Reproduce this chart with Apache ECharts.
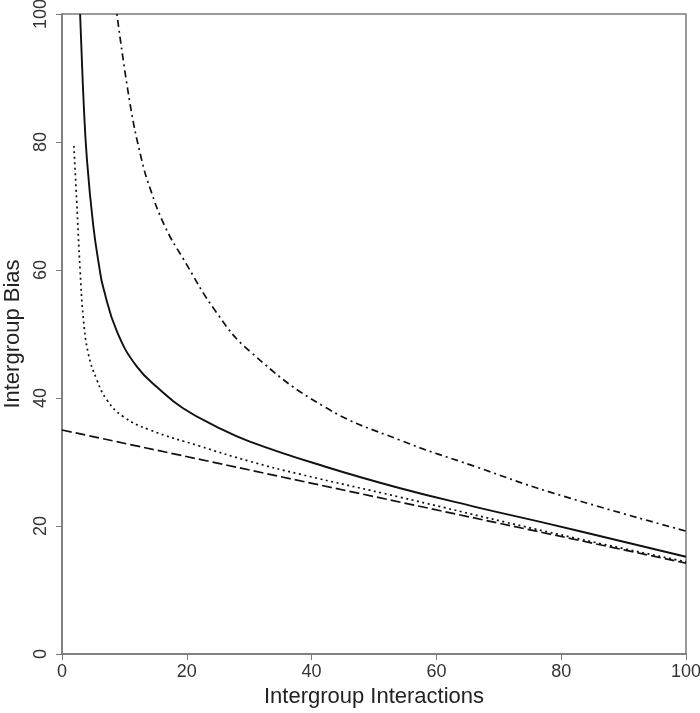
<!DOCTYPE html>
<html>
<head>
<meta charset="utf-8">
<script src="https://cdn.jsdelivr.net/npm/echarts@6/dist/echarts.min.js"></script>
<style>
  html, body { margin: 0; padding: 0; background: #fff; }
  #chart { width: 700px; height: 713px; }
</style>
</head>
<body>
<div id="chart"></div>
<script>
// values
const solidX = [2.9, 3.45, 4.0, 5.0, 6.0, 6.6, 8.8, 12.0, 15.7, 19.4, 24.8, 30.1, 42.1, 54.2, 66.2, 78.2, 100]
const solidY = [100, 86.6, 77.2, 67.0, 60.3, 57.3, 50.4, 44.9, 41.3, 38.4, 35.5, 33.2, 29.3, 25.9, 23.0, 20.3, 15.2]

const dottedX = [1.9, 2.35, 2.9, 3.4, 4.2, 5.6, 7.2, 9.8, 14.1, 22, 30.1, 38.1, 54.2, 78.2, 100]
const dottedY = [79.4, 70.9, 60, 52.7, 47.0, 42.8, 39.7, 37.1, 35.0, 32.5, 30.1, 28.1, 24.5, 19.0, 14.4]

const dashedX = [0, 100]
const dashedY = [35, 14.2]

const dashDotX = [8.8, 10.9, 12.7, 14.1, 16.5, 19.4, 24.8, 30.1, 42.1, 54.2, 66.2, 78.2, 100]
const dashDotY = [100, 86.0, 77.5, 72.8, 66.8, 61.8, 53.3, 47.3, 38.6, 33.4, 29.3, 25.3, 19.2]

const xTicks = [0, 20, 40, 60, 80, 100]
const yTicks = [0, 20, 40, 60, 80, 100]

const pairs = (xs, ys) => xs.map((x, i) => [x, ys[i]])

const chart = echarts.init(document.getElementById('chart'))

const axisGrey = '#7a7a7a'
const lineColor = '#111'

const makeSeries = (name, xs, ys, type, width) => ({
  name: name,
  type: 'line',
  data: pairs(xs, ys),
  showSymbol: false,
  smooth: 0.45,
  clip: true,
  lineStyle: { color: lineColor, width: width, type: type }
})

const option = {
  animation: false,
  backgroundColor: '#fff',
  textStyle: { fontFamily: 'Liberation Sans, Arial, sans-serif' },
  grid: {
    left: 62, right: 14, top: 14, bottom: 59,
    outerBoundsMode: 'none',
    containLabel: false,
    show: true, borderColor: axisGrey, borderWidth: 1.5
  },
  xAxis: {
    type: 'value',
    min: 0, max: 100, interval: 20,
    name: 'Intergroup Interactions',
    nameLocation: 'middle',
    nameGap: 30,
    nameTextStyle: { fontSize: 22, color: '#222' },
    axisLine: { show: true, lineStyle: { color: axisGrey, width: 1.5 } },
    axisTick: { show: true, length: 6, lineStyle: { color: axisGrey } },
    axisLabel: {
      fontSize: 18, color: '#333', margin: 9,
      formatter: v => xTicks.includes(v) ? String(v) : ''
    },
    splitLine: { show: false }
  },
  yAxis: {
    type: 'value',
    min: 0, max: 100, interval: 20,
    name: 'Intergroup Bias',
    nameLocation: 'middle',
    nameGap: 38,
    nameTextStyle: { fontSize: 22, color: '#222' },
    axisLine: { show: true, lineStyle: { color: axisGrey, width: 1.5 } },
    axisTick: { show: true, length: 6, lineStyle: { color: axisGrey } },
    axisLabel: {
      fontSize: 18, color: '#333', margin: 12, rotate: 90,
      formatter: v => yTicks.includes(v) ? String(v) : ''
    },
    splitLine: { show: false }
  },
  series: [
    makeSeries('solid', solidX, solidY, 'solid', 1.9),
    makeSeries('dotted', dottedX, dottedY, [2, 3.5], 1.7),
    makeSeries('dashed', dashedX, dashedY, [10, 4], 1.7),
    makeSeries('dashdot', dashDotX, dashDotY, [2, 4, 7, 4], 1.7)
  ]
}

chart.setOption(option)
</script>
</body>
</html>
